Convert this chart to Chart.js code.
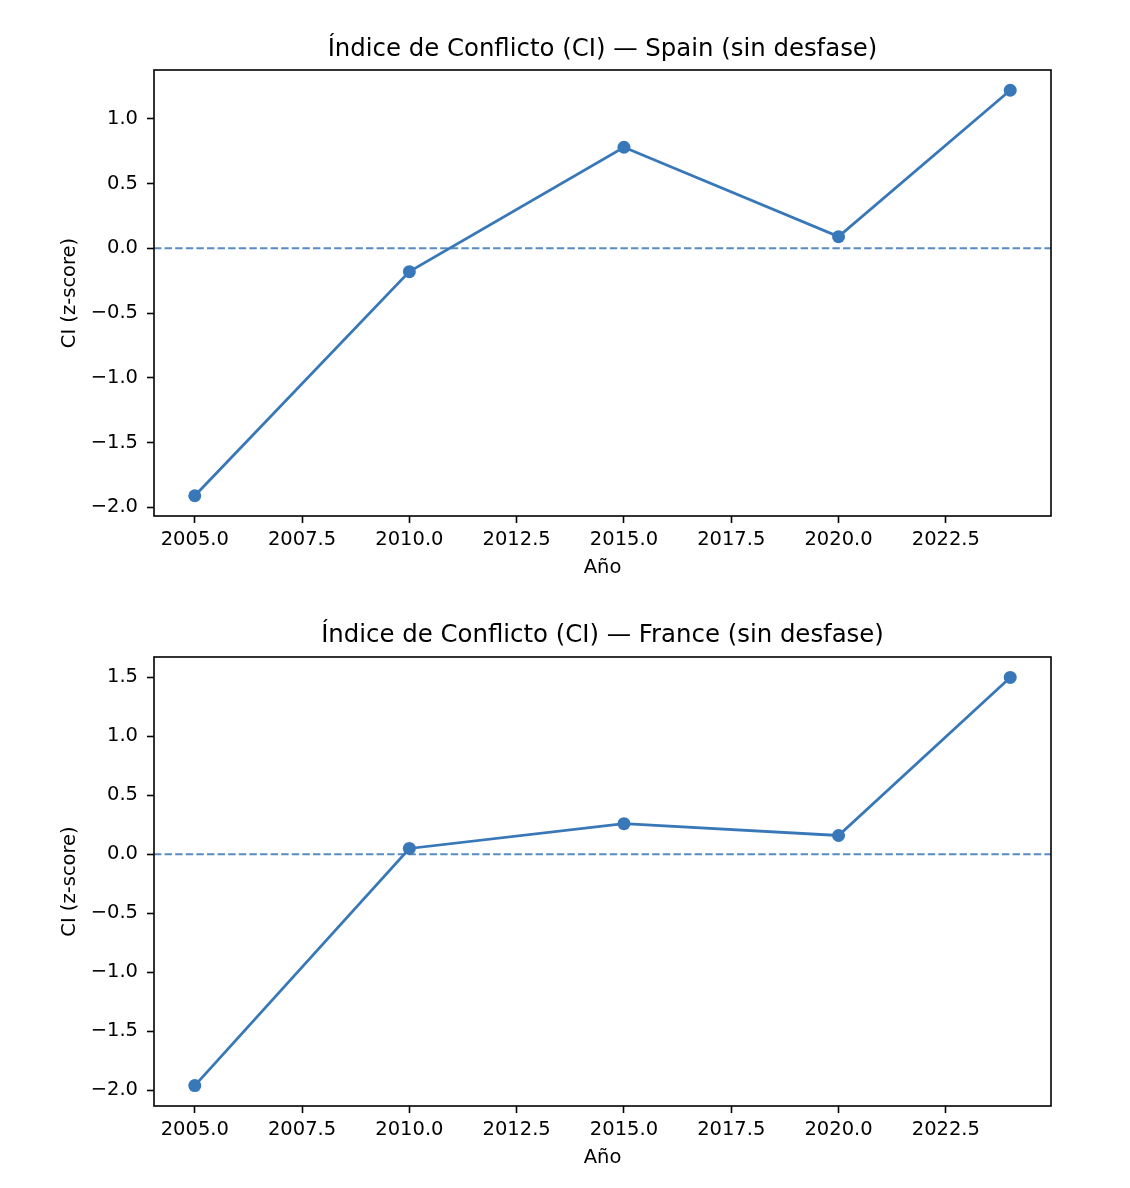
<!DOCTYPE html>
<html>
<head>
<meta charset="utf-8">
<script src="https://cdn.jsdelivr.net/npm/chart.js@4"></script>
<style>
  body { margin: 0; background: #fff; }
  .box { position: absolute; left: 0; width: 1130px; height: 594px; }
</style>
</head>
<body>
<div class="box" style="top:0"><canvas id="spainChart"></canvas></div>
<div class="box" style="top:594px"><canvas id="franceChart"></canvas></div>
<script>
// data
const years = [2005, 2010, 2015, 2020, 2024];
const spainCI = [-1.91, -0.18, 0.78, 0.09, 1.22];
const franceCI = [-1.96, 0.05, 0.26, 0.16, 1.50];
const xTicks = [2005, 2007.5, 2010, 2012.5, 2015, 2017.5, 2020, 2022.5];
const spainYTicks = [-2.0, -1.5, -1.0, -0.5, 0.0, 0.5, 1.0];
const franceYTicks = [-2.0, -1.5, -1.0, -0.5, 0.0, 0.5, 1.0, 1.5];

const lineColor = 'rgb(56, 120, 184)';
const fontFamily = '"DejaVu Sans", sans-serif';

Chart.defaults.font.family = fontFamily;
Chart.defaults.color = '#000';

// matplotlib style minus sign
function fmt(v) {
  const s = Math.abs(v).toFixed(1);
  return v < 0 ? '\u2212' + s : s;
}

// draw the full box round the plot area, and the title centred over it
const frame = {
  id: 'frame',
  afterDraw(chart, args, opts) {
    const a = chart.chartArea;
    const ctx = chart.ctx;
    ctx.save();
    ctx.strokeStyle = '#000';
    ctx.lineWidth = 1.6;
    ctx.strokeRect(a.left, a.top, a.right - a.left, a.bottom - a.top);
    ctx.fillStyle = '#000';
    ctx.font = '24.4px ' + fontFamily;
    ctx.textAlign = 'center';
    ctx.textBaseline = 'alphabetic';
    ctx.fillText(opts.text, (a.left + a.right) / 2, a.top - opts.gap);
    ctx.restore();
  }
};

function makeChart(id, country, values, yTicks, opts) {
  // 5% margins like matplotlib
  const xSpan = years[years.length - 1] - years[0];
  const xMin = years[0] - xSpan * 0.05;
  const xMax = years[years.length - 1] + xSpan * 0.05;
  const lo = Math.min(...values), hi = Math.max(...values);
  const ySpan = hi - lo;

  return new Chart(document.getElementById(id), {
    type: 'line',
    data: {
      datasets: [{
        data: years.map((y, i) => ({ x: y, y: values[i] })),
        borderColor: lineColor,
        backgroundColor: lineColor,
        borderWidth: 2.8,
        pointRadius: 6.5,
        pointHoverRadius: 6.5,
        pointBorderWidth: 0,
        tension: 0,
        order: 0
      }, {
        data: [{ x: xMin, y: 0 }, { x: xMax, y: 0 }],
        borderColor: 'rgba(56, 120, 184, 0.85)',
        borderWidth: 2,
        borderDash: [7.4, 3.2],
        pointRadius: 0,
        order: 1
      }]
    },
    options: {
      responsive: true,
      maintainAspectRatio: false,
      animation: false,
      events: [],
      layout: { padding: { left: 0, right: 79, top: opts.top, bottom: 0 } },
      plugins: {
        legend: { display: false },
        tooltip: { enabled: false },
        title: { display: false },
        frame: { text: 'Índice de Conflicto (CI) — ' + country + ' (sin desfase)', gap: opts.titleGap }
      },
      scales: {
        x: {
          type: 'linear',
          min: xMin,
          max: xMax,
          afterBuildTicks: s => { s.ticks = xTicks.map(v => ({ value: v })); },
          afterFit: s => { s.height = opts.xHeight; },
          grid: { drawOnChartArea: false, drawTicks: true, tickLength: 7, tickWidth: 1.6, tickColor: '#000' },
          border: { display: false },
          ticks: { font: { size: 19.5 }, color: '#000', padding: 5, maxRotation: 0, callback: v => fmt(v) },
          title: { display: true, text: 'Año', font: { size: 19.5 }, color: '#000', padding: { top: 0, bottom: opts.xTitleBottom } }
        },
        y: {
          min: lo - ySpan * 0.05,
          max: hi + ySpan * 0.05,
          afterBuildTicks: s => { s.ticks = yTicks.map(v => ({ value: v })); },
          afterFit: s => { s.width = 154; },
          grid: { drawOnChartArea: false, drawTicks: true, tickLength: 7, tickWidth: 1.6, tickColor: '#000' },
          border: { display: false },
          ticks: { font: { size: 19.5 }, color: '#000', padding: 9, callback: v => fmt(v) },
          title: { display: true, text: 'CI (z-score)', font: { size: 19.5 }, color: '#000', padding: { top: 58, bottom: 0 } }
        }
      }
    },
    plugins: [frame]
  });
}

makeChart('spainChart', 'Spain', spainCI, spainYTicks,
  { top: 70, titleGap: 14, xHeight: 78, xTitleBottom: 14 });
makeChart('franceChart', 'France', franceCI, franceYTicks,
  { top: 63, titleGap: 15, xHeight: 82, xTitleBottom: 18 });
</script>
</body>
</html>
